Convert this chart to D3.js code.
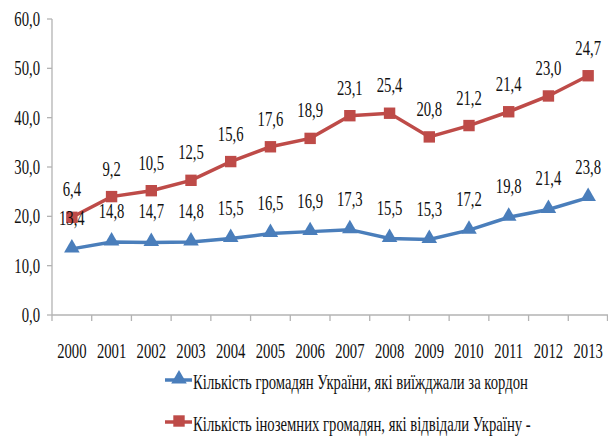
<!DOCTYPE html>
<html>
<head>
<meta charset="utf-8">
<script src="https://cdn.jsdelivr.net/npm/d3@7"></script>
<style>
  body { margin: 0; background: #fff; }
  svg { display: block; }
  text { font-family: "Liberation Serif", "Times New Roman", serif; fill: #111; }
</style>
</head>
<body>
<div id="chart"></div>
<script>
// data
var years = ["2000", "2001", "2002", "2003", "2004", "2005", "2006", "2007", "2008", "2009", "2010", "2011", "2012", "2013"];
var outbound = [13.4, 14.8, 14.7, 14.8, 15.5, 16.5, 16.9, 17.3, 15.5, 15.3, 17.2, 19.8, 21.4, 23.8];
var inbound = [6.4, 9.2, 10.5, 12.5, 15.6, 17.6, 18.9, 23.1, 25.4, 20.8, 21.2, 21.4, 23.0, 24.7];
var yTicks = [0, 10, 20, 30, 40, 50, 60];
var legendNames = [
    "Кількість громадян України, які виїжджали за кордон",
    "Кількість іноземних громадян, які відвідали Україну -"
];

var W = 608, H = 436,
    blue = "#4a7ebb",
    red = "#be4b48",
    axisColor = "#b3b3b3",
    squeeze = 0.7,   // the source font is a narrow Times
    fontSize = 21;

var fmt = function (d) { return d3.format(".1f")(d).replace(".", ","); };

var svg = d3.select("#chart").append("svg")
    .attr("width", W)
    .attr("height", H);

var x = d3.scaleBand().domain(years).range([52, 608]).padding(0);
var y = d3.scaleLinear().domain([0, 60]).range([315, 19]);

// second series sits on top of the first (stacked line)
var stacked = inbound.map(function (v, i) { return v + outbound[i]; });

function narrowText(g, px, py, str, anchor) {
    return g.append("text")
        .attr("transform", "translate(" + px + "," + py + ") scale(" + squeeze + ",1)")
        .attr("text-anchor", anchor || "middle")
        .style("font-size", fontSize + "px")
        .text(str);
}

// y axis
svg.append("line")
    .attr("x1", 52).attr("x2", 52)
    .attr("y1", y(60)).attr("y2", y(0))
    .attr("stroke", axisColor).attr("stroke-width", 1.3);

yTicks.forEach(function (t) {
    svg.append("line")
        .attr("x1", 47).attr("x2", 52)
        .attr("y1", y(t)).attr("y2", y(t))
        .attr("stroke", axisColor).attr("stroke-width", 1.3);
    narrowText(svg, 40, y(t) + 7, fmt(t), "end");
});

// x axis
svg.append("line")
    .attr("x1", 52).attr("x2", W)
    .attr("y1", y(0)).attr("y2", y(0))
    .attr("stroke", axisColor).attr("stroke-width", 1.3);

years.concat(["end"]).forEach(function (d) {
    var px = d === "end" ? x.range()[1] - 0.5 : x(d);
    svg.append("line")
        .attr("x1", px).attr("x2", px)
        .attr("y1", y(0)).attr("y2", y(0) + 6)
        .attr("stroke", axisColor).attr("stroke-width", 1.3);
});

years.forEach(function (d) {
    narrowText(svg, x(d) + x.bandwidth() / 2, 358, d);
});

var cx = function (d, i) { return x(years[i]) + x.bandwidth() / 2; };

var line = d3.line()
    .x(function (d, i) { return cx(d, i); })
    .y(function (d) { return y(d); });

var tri = d3.symbol().type(d3.symbolTriangle).size(105);
var sq = d3.symbol().type(d3.symbolSquare).size(130);

// blue series
svg.append("path")
    .datum(outbound)
    .attr("d", line)
    .attr("fill", "none")
    .attr("stroke", blue)
    .attr("stroke-width", 3.5);

svg.selectAll(".tri").data(outbound).enter().append("path")
    .attr("class", "tri")
    .attr("d", tri)
    .attr("transform", function (d, i) { return "translate(" + cx(d, i) + "," + (y(d) - 1) + ")"; })
    .attr("fill", blue);

// red series
svg.append("path")
    .datum(stacked)
    .attr("d", line)
    .attr("fill", "none")
    .attr("stroke", red)
    .attr("stroke-width", 3.5);

svg.selectAll(".sq").data(stacked).enter().append("path")
    .attr("class", "sq")
    .attr("d", sq)
    .attr("transform", function (d, i) { return "translate(" + cx(d, i) + "," + y(d) + ")"; })
    .attr("fill", red);

// data labels
outbound.forEach(function (v, i) {
    narrowText(svg, cx(v, i), y(v) - 24, fmt(v));
});
inbound.forEach(function (v, i) {
    narrowText(svg, cx(v, i), y(stacked[i]) - 21, fmt(v));
});

// legend
var legendY = [380, 422];
legendNames.forEach(function (name, i) {
    var g = svg.append("g");
    g.append("line")
        .attr("x1", 165).attr("x2", 192)
        .attr("y1", legendY[i]).attr("y2", legendY[i])
        .attr("stroke", i === 0 ? blue : red)
        .attr("stroke-width", 3.5);
    g.append("path")
        .attr("d", i === 0 ? tri : sq)
        .attr("transform", "translate(179," + (legendY[i] - 1) + ")")
        .attr("fill", i === 0 ? blue : red);
    narrowText(g, 193, legendY[i] + 9, name, "start");
});
</script>
</body>
</html>
